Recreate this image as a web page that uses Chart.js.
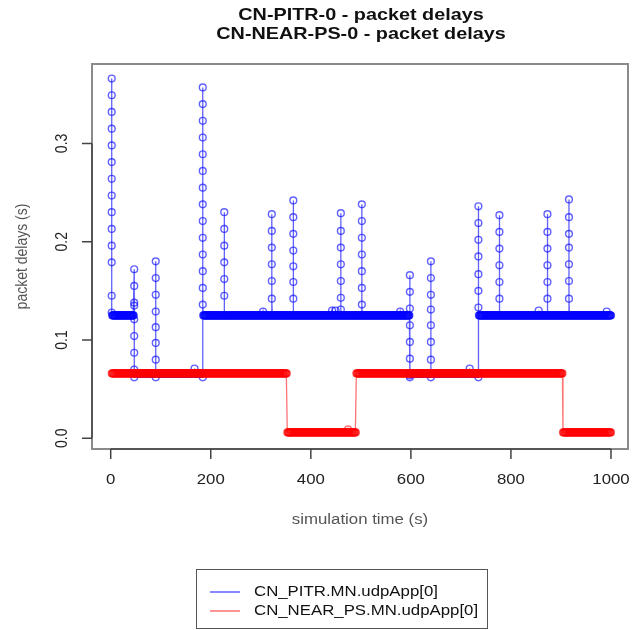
<!DOCTYPE html>
<html>
<head>
<meta charset="utf-8">
<title>packet delays</title>
<script src="https://cdn.jsdelivr.net/npm/chart.js@4.4.1/dist/chart.umd.min.js"></script>
<style>
  html, body { margin: 0; padding: 0; background: #fff; }
  #wrap { width: 638px; height: 630px; }
</style>
</head>
<body>
<div id="wrap"><canvas id="delayChart" width="638" height="630"></canvas></div>
<script>
// titles / labels
const titleLines = ['CN-PITR-0 - packet delays', 'CN-NEAR-PS-0 - packet delays'];
const xTitle = 'simulation time (s)';
const yTitle = 'packet delays (s)';
const seriesNames = ['CN_PITR.MN.udpApp[0]', 'CN_NEAR_PS.MN.udpApp[0]'];

const xTicks = [0, 200, 400, 600, 800, 1000];
const yTicks = [0, 0.1, 0.2, 0.3];
const yTickLabels = ['0.0', '0.1', '0.2', '0.3'];

// CN_PITR: steady delay runs (start s, end s, delay s)
const pitrRunStart = [3, 48, 185, 599, 736];
const pitrRunEnd   = [46, 183, 597, 734, 1000];
const pitrRunDelay = [0.125, 0.066, 0.125, 0.066, 0.125];

// CN_PITR: bursts of buffered packets, all delivered at the same time
const pitrBurstTime = [2, 47, 90, 184, 227, 322, 365, 460, 502, 598, 640, 735, 777, 873, 916];
const pitrBurstDelays = [
  [0.366, 0.349, 0.332, 0.315, 0.298, 0.281, 0.264, 0.247, 0.230, 0.213, 0.196, 0.179, 0.145, 0.128],
  [0.172, 0.155, 0.138, 0.135, 0.121, 0.104, 0.087, 0.070, 0.062],
  [0.180, 0.163, 0.146, 0.129, 0.113, 0.097, 0.080, 0.062],
  [0.062, 0.357, 0.340, 0.323, 0.306, 0.289, 0.272, 0.255, 0.238, 0.221, 0.204, 0.187, 0.170, 0.153, 0.136],
  [0.230, 0.213, 0.196, 0.179, 0.162, 0.145],
  [0.228, 0.211, 0.194, 0.177, 0.160, 0.142],
  [0.242, 0.225, 0.208, 0.191, 0.175, 0.159, 0.142],
  [0.229, 0.211, 0.194, 0.177, 0.160, 0.143, 0.131],
  [0.238, 0.221, 0.204, 0.187, 0.170, 0.153, 0.136],
  [0.166, 0.149, 0.132, 0.115, 0.098, 0.081, 0.064, 0.062],
  [0.180, 0.163, 0.146, 0.131, 0.115, 0.098, 0.080, 0.062],
  [0.062, 0.236, 0.219, 0.202, 0.185, 0.167, 0.150, 0.133],
  [0.227, 0.210, 0.193, 0.176, 0.159, 0.142],
  [0.228, 0.210, 0.193, 0.176, 0.159, 0.142],
  [0.243, 0.225, 0.208, 0.194, 0.177, 0.160, 0.142]
];

// CN_PITR: single packets off the steady level
const pitrOddTime  = [167.5, 304.5, 442.5, 449.5, 578.5, 717.5, 855.5, 991.5];
const pitrOddDelay = [0.071, 0.129, 0.130, 0.130, 0.129, 0.071, 0.130, 0.129];

// CN_NEAR_PS
const nearRunStart = [2, 353, 491, 904];
const nearRunEnd   = [352, 490, 903, 1000];
const nearRunDelay = [0.066, 0.006, 0.066, 0.006];
const nearOddTime  = [474.5];
const nearOddDelay = [0.009];

const sendInterval = 1; // one plotted packet per second on the steady runs
const textStretch = 1.2;

function buildSeries(runStart, runEnd, runDelay, burstTime, burstDelays, oddTime, oddDelay) {
  const pts = [];
  for (let i = 0; i < runStart.length; i++) {
    for (let t = runStart[i]; t <= runEnd[i]; t += sendInterval) {
      pts.push({ x: t, y: runDelay[i] });
    }
  }
  oddTime.forEach((t, i) => pts.push({ x: t, y: oddDelay[i] }));
  burstTime.forEach((t, i) => {
    burstDelays[i].forEach(d => pts.push({ x: t, y: d }));
  });
  pts.sort((a, b) => a.x - b.x); // stable, keeps burst order
  return pts;
}

const pitrData = buildSeries(pitrRunStart, pitrRunEnd, pitrRunDelay,
  pitrBurstTime, pitrBurstDelays, pitrOddTime, pitrOddDelay);
const nearData = buildSeries(nearRunStart, nearRunEnd, nearRunDelay,
  [], [], nearOddTime, nearOddDelay);

const blue = 'rgba(0, 0, 255, 0.62)';
const red = 'rgba(255, 0, 0, 0.55)';

function drawText(ctx, text, x, y, font, color, align, rotate) {
  ctx.save();
  ctx.font = font;
  ctx.fillStyle = color;
  ctx.textAlign = align || 'center';
  ctx.textBaseline = 'middle';
  ctx.translate(x, y);
  ctx.scale(textStretch, 1);
  if (rotate) ctx.rotate(-Math.PI / 2);
  ctx.fillText(text, 0, 0);
  ctx.restore();
}

// base-graphics style frame, axes, titles and legend
const rFrame = {
  id: 'rFrame',
  afterDraw(chart) {
    const ctx = chart.ctx;
    const a = chart.chartArea;
    const xs = chart.scales.x;
    const ys = chart.scales.y;
    const cx = (a.left + a.right) / 2;

    ctx.save();
    // box
    ctx.strokeStyle = '#8a8a8a';
    ctx.lineWidth = 2;
    ctx.strokeRect(a.left, a.top, a.right - a.left, a.bottom - a.top);

    // x axis
    ctx.strokeStyle = '#444';
    ctx.lineWidth = 1.5;
    ctx.beginPath();
    ctx.moveTo(xs.getPixelForValue(xTicks[0]), a.bottom);
    ctx.lineTo(xs.getPixelForValue(xTicks[xTicks.length - 1]), a.bottom);
    xTicks.forEach(v => {
      const px = xs.getPixelForValue(v);
      ctx.moveTo(px, a.bottom);
      ctx.lineTo(px, a.bottom + 10);
    });
    // y axis
    ctx.moveTo(a.left, ys.getPixelForValue(yTicks[0]));
    ctx.lineTo(a.left, ys.getPixelForValue(yTicks[yTicks.length - 1]));
    yTicks.forEach(v => {
      const py = ys.getPixelForValue(v);
      ctx.moveTo(a.left, py);
      ctx.lineTo(a.left - 10, py);
    });
    ctx.stroke();
    ctx.restore();

    const tickFont = '14px "Liberation Sans", Arial, sans-serif';
    xTicks.forEach(v => {
      drawText(ctx, String(v), xs.getPixelForValue(v), a.bottom + 31, tickFont, '#222');
    });
    yTicks.forEach((v, i) => {
      drawText(ctx, yTickLabels[i], a.left - 30, ys.getPixelForValue(v), tickFont, '#222', 'center', true);
    });

    drawText(ctx, xTitle, cx, a.bottom + 71, tickFont, '#555');
    drawText(ctx, yTitle, 22, (a.top + a.bottom) / 2, tickFont, '#555', 'center', true);

    const titleFont = 'bold 16.5px "Liberation Sans", Arial, sans-serif';
    drawText(ctx, titleLines[0], cx + 1, 15, titleFont, '#111');
    drawText(ctx, titleLines[1], cx + 1, 34, titleFont, '#111');

    // legend box under the plot
    const lx = 196, ly = 569, lw = 291, lh = 60;
    ctx.save();
    ctx.strokeStyle = '#555';
    ctx.lineWidth = 1;
    ctx.strokeRect(lx + 0.5, ly + 0.5, lw, lh - 1);
    const colors = [blue, red];
    seriesNames.forEach((name, i) => {
      const ry = ly + 23 + i * 19;
      ctx.strokeStyle = colors[i];
      ctx.lineWidth = 1.5;
      ctx.beginPath();
      ctx.moveTo(lx + 14, ry);
      ctx.lineTo(lx + 44, ry);
      ctx.stroke();
      drawText(ctx, name, lx + 58, ry, tickFont, '#111', 'left');
    });
    ctx.restore();
  }
};

new Chart(document.getElementById('delayChart'), {
  type: 'line',
  data: {
    datasets: [
      {
        label: seriesNames[0],
        data: pitrData,
        borderColor: blue,
        borderWidth: 1.3,
        pointRadius: 3.4,
        pointBorderWidth: 1.4,
        pointBorderColor: blue,
        pointBackgroundColor: 'rgba(0,0,0,0)',
        tension: 0,
        order: 1
      },
      {
        label: seriesNames[1],
        data: nearData,
        borderColor: red,
        borderWidth: 1.3,
        pointRadius: 3.4,
        pointBorderWidth: 1.4,
        pointBorderColor: red,
        pointBackgroundColor: 'rgba(0,0,0,0)',
        tension: 0,
        order: 0
      }
    ]
  },
  options: {
    responsive: false,
    animation: false,
    events: [],
    layout: {
      padding: { left: 92, right: 10, top: 64, bottom: 181 }
    },
    scales: {
      x: { type: 'linear', min: -37.4, max: 1034, display: false },
      y: { type: 'linear', min: -0.0109, max: 0.3808, display: false }
    },
    plugins: {
      legend: { display: false },
      title: { display: false },
      tooltip: { enabled: false }
    }
  },
  plugins: [rFrame]
});
</script>
</body>
</html>
